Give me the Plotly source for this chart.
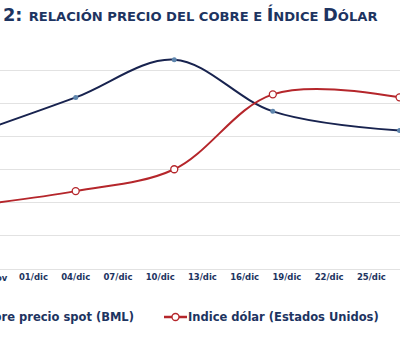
import plotly.graph_objects as go
import pandas as pd

# ---- data ----
dates = ["2009-11-27", "2009-12-04", "2009-12-11", "2009-12-18", "2009-12-27"]
copper = [3.006, 3.059, 3.116, 3.038, 3.009]      # US$/lb (approx.)
dollar_index = [74.93, 75.35, 76.01, 78.27, 78.18]  # index
tick_dates = ["2009-11-28", "2009-12-01", "2009-12-04", "2009-12-07", "2009-12-10",
              "2009-12-13", "2009-12-16", "2009-12-19", "2009-12-22", "2009-12-25"]
tick_text = ["28/nov", "01/dic", "04/dic", "07/dic", "10/dic",
             "13/dic", "16/dic", "19/dic", "22/dic", "25/dic"]
series_names = ["Cobre precio spot (BML)", "Indice dólar (Estados Unidos)"]

NAVY = "#1d3461"
BLUE_LINE = "#18234f"
RED_LINE = "#b5262b"
FONT = "DejaVu Sans"

x_range = ["2009-11-28 15:00", "2009-12-27 00:45"]
PLOT_TOP, PLOT_BOT = 37, 269
PH = PLOT_BOT - PLOT_TOP


def py(px):
    """pixel row -> paper y"""
    return (PLOT_BOT - px) / PH


fig = go.Figure()
fig.add_trace(go.Scatter(
    x=dates, y=copper, name=series_names[0], mode="lines+markers",
    line=dict(color=BLUE_LINE, width=2, shape="spline", smoothing=1.0),
    marker=dict(size=5, color="#5f86ad", line=dict(color="#5f86ad", width=0)),
    yaxis="y", showlegend=False, hoverinfo="skip"))
fig.add_trace(go.Scatter(
    x=dates, y=dollar_index, name=series_names[1], mode="lines+markers",
    line=dict(color=RED_LINE, width=2, shape="spline", smoothing=1.0),
    marker=dict(size=7, color="white", line=dict(color=RED_LINE, width=1.3)),
    yaxis="y2", showlegend=False, hoverinfo="skip"))

# tick labels: those inside range through the axis, the cut-off first one as annotation
t0 = pd.Timestamp(x_range[0]); t1 = pd.Timestamp(x_range[1])
annotations = []
in_vals, in_text = [], []
for d, t in zip(tick_dates, tick_text):
    ts = pd.Timestamp(d)
    if t0 <= ts <= t1:
        in_vals.append(d); in_text.append(t)
    else:
        pxx = (ts - t0) / (t1 - t0)
        annotations.append(dict(x=pxx, xref="paper", y=py(278), yref="paper",
                                text=t, showarrow=False, xanchor="center", yanchor="middle",
                                font=dict(family=FONT, size=8.5, color=NAVY, weight="bold")))

# legend drawn as annotations (first entry cut off at the left edge)
annotations.append(dict(x=136 / 400, xref="paper", y=py(317), yref="paper",
                        text=series_names[0], showarrow=False, xanchor="right", yanchor="middle",
                        font=dict(family=FONT, size=11.5, color=NAVY, weight="bold")))
annotations.append(dict(x=186 / 400, xref="paper", y=py(317), yref="paper",
                        text=series_names[1], showarrow=False, xanchor="left", yanchor="middle",
                        font=dict(family=FONT, size=11.5, color=NAVY, weight="bold")))

shapes = [
    dict(type="line", xref="paper", yref="paper", x0=164 / 400, x1=187 / 400,
         y0=py(317), y1=py(317), line=dict(color=RED_LINE, width=2.5)),
    dict(type="circle", xref="paper", yref="paper",
         x0=172 / 400, x1=179 / 400, y0=py(320.5), y1=py(313.5),
         fillcolor="white", line=dict(color=RED_LINE, width=1.3)),
]

title_html = ('<span style="font-size:17.8px">2: </span>'
              '<span style="font-size:13.1px">RELACIÓN PRECIO DEL COBRE E </span>'
              '<span style="font-size:17.8px">Í</span><span style="font-size:13.1px">NDICE </span>'
              '<span style="font-size:17.8px">D</span><span style="font-size:13.1px">ÓLAR</span>')

fig.update_layout(
    width=400, height=361,
    margin=dict(l=0, r=0, t=PLOT_TOP, b=361 - PLOT_BOT, autoexpand=False),
    paper_bgcolor="white", plot_bgcolor="white",
    hovermode=False,
    title=dict(text=title_html, x=3 / 400, xanchor="left", xref="paper",
               y=1 - 15 / 361, yref="container", yanchor="middle",
               font=dict(family=FONT, size=17.8, color=NAVY, weight="bold")),
    xaxis=dict(type="date", range=x_range, tickmode="array", tickvals=in_vals, ticktext=in_text,
               showgrid=False, showline=True, linecolor="#e2e2e2", linewidth=1, ticks="",
               tickfont=dict(family=FONT, size=8.5, color=NAVY, weight="bold"), zeroline=False),
    yaxis=dict(range=[2.80, 3.1502], dtick=0.05, tick0=2.80, showgrid=True, gridcolor="#e2e2e2",
               gridwidth=1, showticklabels=False, ticks="", zeroline=False),
    yaxis2=dict(range=[73, 80], overlaying="y", side="right", showgrid=False,
                showticklabels=False, ticks="", zeroline=False),
    annotations=annotations, shapes=shapes,
)

fig.write_html("out.html", config={"displayModeBar": False, "staticPlot": True},
               post_script="document.body.style.margin='0px';document.body.style.overflow='hidden';")
